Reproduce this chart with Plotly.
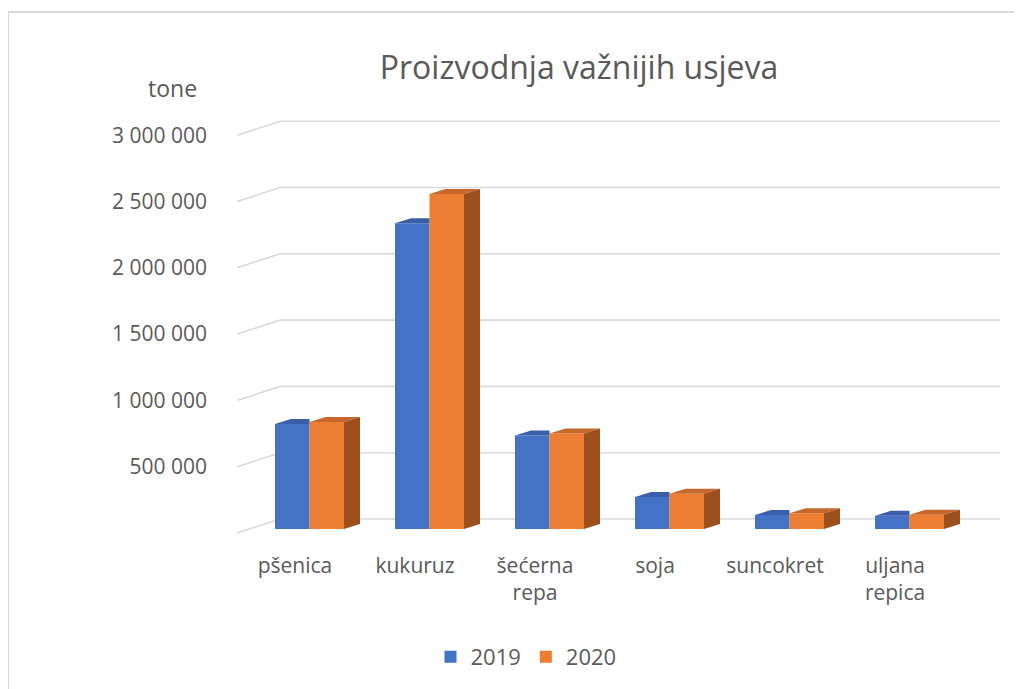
import plotly.graph_objects as go

categories = ["pšenica", "kukuruz", "šećerna<br>repa", "soja", "suncokret", "uljana<br>repica"]
series_names = ["2019", "2020"]
values_2019 = [792000, 2305000, 706000, 241000, 106000, 100000]
values_2020 = [807000, 2527000, 721000, 266000, 118000, 108000]
y_tick_values = [500000, 1000000, 1500000, 2000000, 2500000, 3000000]
y_tick_labels = ["500 000", "1 000 000", "1 500 000", "2 000 000", "2 500 000", "3 000 000"]
grid_values = [0, 500000, 1000000, 1500000, 2000000, 2500000, 3000000]

# ---- layout geometry (pixels, in page coordinates) ----
W, H = 1022, 689
OFF = 8                                    # page body margin of the html page
PL, PR, PT, PB = 220, 1010, 110, 545       # plot area in page px
X0_PX = 309.5                              # page px of category 0 (front faces)
PX_PER_CAT = 120.0
ZERO_PX = 529.0                            # page px of value 0 on the bar plane
PX_PER_VAL = 66.3 / 500000.0

def vpx(px):  # pixel offset -> value units
    return px / PX_PER_VAL

def fx_paper(px):
    return (px - PL) / (PR - PL)

def fy_paper(py):
    return (PB - py) / (PB - PT)

x_range = [(PL - X0_PX) / PX_PER_CAT, (PR - X0_PX) / PX_PER_CAT]
y_range = [-vpx(PB - ZERO_PX), vpx(ZERO_PX - PT)]

# depth of the box (oblique projection)
full_dx, full_dy = 43 / PX_PER_CAT, vpx(14)
front_frac = 4 / 14.0
back_frac = 1 - front_frac
bar_dx, bar_dy = 16 / PX_PER_CAT, vpx(5)
bw = 34.5 / PX_PER_CAT

BLUE, ORANGE = "#4472C4", "#ED7D31"
BLUE_TOP, ORANGE_TOP = "#3A5FA8", "#C8672B"
ORANGE_SIDE = "#9C4F1D"
GRID = "#D9D9D9"
TXT = "#595959"
FONT = "Open Sans"

fig = go.Figure()

n = len(categories)
xs19 = [i - bw / 2 for i in range(n)]
xs20 = [i + bw / 2 for i in range(n)]

fig.add_trace(go.Bar(x=xs19, y=values_2019, width=bw, name=series_names[0],
                     marker=dict(color=BLUE, line=dict(width=0))))
fig.add_trace(go.Bar(x=xs20, y=values_2020, width=bw, name=series_names[1],
                     marker=dict(color=ORANGE, line=dict(width=0))))

# top face of 2019 (clipped at the 2020 bar)
tx, ty = [], []
for xc, v in zip(xs19, values_2019):
    a, b = xc - bw / 2, xc + bw / 2
    tx += [a, b, b, a + bar_dx, a, None]
    ty += [v, v, v + bar_dy, v + bar_dy, v, None]
fig.add_trace(go.Scatter(x=tx, y=ty, fill="toself", fillcolor=BLUE_TOP, mode="none",
                         showlegend=False, hoverinfo="skip"))

# top + side faces of 2020
tx, ty, sx, sy = [], [], [], []
for xc, v in zip(xs20, values_2020):
    a, b = xc - bw / 2, xc + bw / 2
    tx += [a, b, b + bar_dx, a + bar_dx, a, None]
    ty += [v, v, v + bar_dy, v + bar_dy, v, None]
    sx += [b, b + bar_dx, b + bar_dx, b, b, None]
    sy += [0, bar_dy, v + bar_dy, v, 0, None]
fig.add_trace(go.Scatter(x=tx, y=ty, fill="toself", fillcolor=ORANGE_TOP, mode="none",
                         showlegend=False, hoverinfo="skip"))
fig.add_trace(go.Scatter(x=sx, y=sy, fill="toself", fillcolor=ORANGE_SIDE, mode="none",
                         showlegend=False, hoverinfo="skip"))

# gridlines: side wall + back wall
left_edge, right_edge = -0.5, n - 0.5
for g in grid_values:
    fx, fy = left_edge - front_frac * full_dx, g - front_frac * full_dy
    bx, by = left_edge + back_frac * full_dx, g + back_frac * full_dy
    rx = right_edge + back_frac * full_dx
    fig.add_shape(type="path", xref="x", yref="y", layer="below",
                  path=f"M {fx},{fy} L {bx},{by} L {rx},{by}",
                  line=dict(color=GRID, width=1.6))

# outer chart border (extends beyond the picture on right / bottom)
fig.add_shape(type="rect", xref="paper", yref="paper",
              x0=fx_paper(8), x1=fx_paper(1045),
              y0=fy_paper(720), y1=fy_paper(12),
              line=dict(color=GRID, width=2), layer="below")

fig.add_annotation(text="tone", xref="paper", yref="paper",
                   x=fx_paper(172), y=fy_paper(88),
                   xanchor="center", yanchor="middle", showarrow=False,
                   font=dict(family=FONT, size=23, color=TXT))

fig.update_layout(
    width=W, height=H,
    margin=dict(l=PL - OFF, r=W - PR + OFF, t=PT - OFF, b=H - PB + OFF, pad=0),
    paper_bgcolor="white", plot_bgcolor="white",
    barmode="overlay",
    title=dict(text="Proizvodnja važnijih usjeva", x=(579 - OFF) / W, y=1 - (68 - OFF) / H,
               xanchor="center", yanchor="middle",
               font=dict(family=FONT, size=32, color=TXT)),
    xaxis=dict(range=x_range, showgrid=False, zeroline=False, showline=False,
               tickmode="array", tickvals=[i - 14.5 / PX_PER_CAT for i in range(n)],
               ticktext=categories, ticks="", ticklabelstandoff=6,
               tickfont=dict(family=FONT, size=21, color=TXT), fixedrange=True),
    yaxis=dict(range=y_range, showgrid=False, zeroline=False, showline=False,
               tickmode="array", tickvals=[v - front_frac * full_dy for v in y_tick_values],
               ticktext=y_tick_labels, ticks="", ticklabelstandoff=12,
               tickfont=dict(family=FONT, size=21, color=TXT), fixedrange=True),
    legend=dict(orientation="h", x=fx_paper(526), y=fy_paper(657),
                xanchor="center", yanchor="middle",
                font=dict(family=FONT, size=22, color=TXT), itemwidth=30,
                bgcolor="rgba(0,0,0,0)"),
    font=dict(family=FONT, color=TXT),
)

fig.write_html("out.html")
